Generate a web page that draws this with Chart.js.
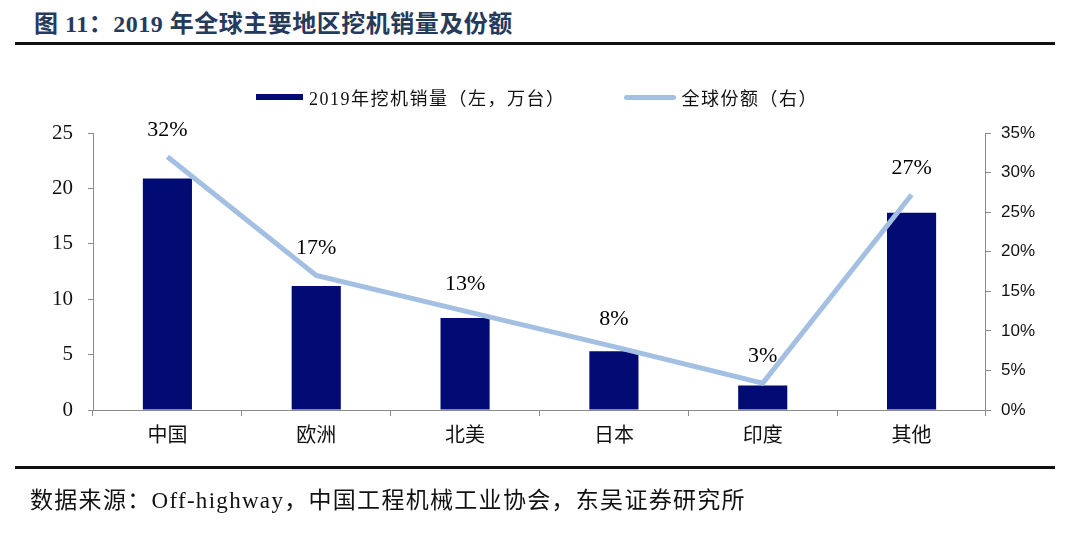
<!DOCTYPE html>
<html>
<head>
<meta charset="utf-8">
<script src="https://cdn.jsdelivr.net/npm/chart.js@4"></script>
<style>
  html, body { margin: 0; padding: 0; background: #fff; }
  #wrap { position: relative; width: 1080px; height: 534px; overflow: hidden; }
  #title {
    position: absolute; left: 34px; top: 4px;
    font: bold 24px "Liberation Serif", "Noto Sans CJK SC", serif;
    color: #263a5c; letter-spacing: 0.5px;
  }
  #rule1 { position: absolute; left: 15px; top: 42px; width: 1040px; height: 3px; background: #111; }
  #rule2 { position: absolute; left: 15px; top: 466px; width: 1040px; height: 3px; background: #111; }
  #source {
    position: absolute; left: 30px; top: 481px;
    font: 23px "Liberation Serif", "Noto Sans CJK SC", serif; color: #111; letter-spacing: 1.3px;
  }
  #legend {
    position: absolute; top: 84px; left: 256px; height: 26px;
    font: 18px "Liberation Serif", "Noto Sans CJK SC", serif; color: #111; letter-spacing: 1.5px;
    display: flex; align-items: center; white-space: nowrap;
  }
  .sw { display: inline-block; margin-right: 6px; }
  #c { position: absolute; left: 0; top: 0; }
</style>
</head>
<body>
<div id="wrap">
  <div id="title">图 11：2019 年全球主要地区挖机销量及份额</div>
  <div id="rule1"></div>
  <canvas id="c" width="1080" height="534"></canvas>
  <div id="legend"></div>
  <div id="rule2"></div>
  <div id="source">数据来源：Off-highway，中国工程机械工业协会，东吴证券研究所</div>
</div>
<script>
const regions = ['中国', '欧洲', '北美', '日本', '印度', '其他'];
const sales = [20.9, 11.2, 8.3, 5.3, 2.2, 17.8];        // 万台
const share = [0.32, 0.17, 0.125, 0.08, 0.034, 0.272]; // 全球份额
const shareLabels = ['32%', '17%', '13%', '8%', '3%', '27%'];

const axisGrey = '#8a8a8a';
const navy = '#020b73';
const lightBlue = '#a3bfe2';

// percentages written above each point of the share line
const pointLabels = {
  id: 'pointLabels',
  afterDatasetsDraw(chart) {
    const meta = chart.getDatasetMeta(1);
    const ctx = chart.ctx;
    ctx.save();
    ctx.fillStyle = '#000';
    ctx.font = '22px "Liberation Serif", serif';
    ctx.textAlign = 'center';
    ctx.textBaseline = 'middle';
    meta.data.forEach((pt, i) => {
      ctx.fillText(shareLabels[i], pt.x, pt.y - 27);
    });
    ctx.restore();
  }
};

const chart = new Chart(document.getElementById('c'), {
  data: {
    labels: regions,
    datasets: [{
      type: 'bar',
      label: '2019年挖机销量（左，万台）',
      data: sales,
      backgroundColor: navy,
      yAxisID: 'y',
      order: 1,
      barPercentage: 0.66,
      categoryPercentage: 0.5,
    }, {
      type: 'line',
      label: '全球份额（右）',
      data: share,
      borderColor: lightBlue,
      backgroundColor: lightBlue,
      borderWidth: 5,
      pointRadius: 0,
      tension: 0,
      yAxisID: 'y1',
      order: 0,
    }]
  },
  options: {
    responsive: false,
    animation: false,
    layout: { padding: { top: 133, left: 37, right: 35, bottom: 82 } },
    plugins: {
      tooltip: { enabled: false },
      legend: { display: false }
    },
    scales: {
      x: {
        offset: true,
        grid: { display: true, drawOnChartArea: false, offset: true, tickLength: 6, color: axisGrey },
        border: { color: axisGrey },
        ticks: { color: '#111', padding: 6, font: { family: '"Noto Sans CJK SC", sans-serif', size: 20 } },
      },
      y: {
        position: 'left',
        min: 0, max: 25,
        ticks: { stepSize: 5, color: '#111', padding: 15, font: { family: '"Liberation Serif", serif', size: 21 } },
        grid: { drawOnChartArea: false, tickLength: 5, color: axisGrey },
        border: { color: axisGrey },
      },
      y1: {
        position: 'right',
        min: 0, max: 0.35,
        ticks: {
          stepSize: 0.05, color: '#111', padding: 10,
          font: { family: '"Liberation Sans", sans-serif', size: 17 },
          callback: v => Math.round(v * 100) + '%'
        },
        grid: { drawOnChartArea: false, tickLength: 5, color: axisGrey },
        border: { color: axisGrey },
      }
    }
  },
  plugins: [pointLabels]
});

// legend built from the datasets
const legend = document.getElementById('legend');
chart.data.datasets.forEach((ds, i) => {
  const item = document.createElement('span');
  item.style.display = 'inline-flex';
  item.style.alignItems = 'center';
  item.style.marginRight = i === 0 ? '58px' : '0';
  const sw = document.createElement('span');
  sw.className = 'sw';
  if (ds.type === 'bar') {
    sw.style.width = '47px'; sw.style.height = '6px'; sw.style.background = ds.backgroundColor;
  } else {
    sw.style.width = '52px'; sw.style.height = '5px'; sw.style.borderRadius = '3px';
    sw.style.background = ds.borderColor;
  }
  item.appendChild(sw);
  item.appendChild(document.createTextNode(ds.label));
  legend.appendChild(item);
});
</script>
</body>
</html>
